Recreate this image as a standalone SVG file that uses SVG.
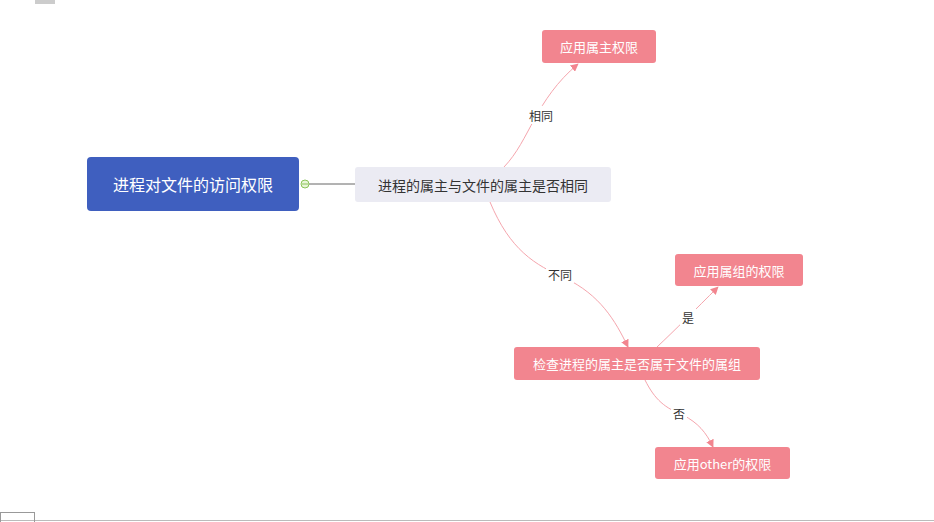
<svg xmlns="http://www.w3.org/2000/svg" width="934" height="522" viewBox="0 0 934 522">
<style>
text{font-family:"Noto Sans CJK SC","Liberation Sans",sans-serif;text-anchor:middle;dominant-baseline:central}
.p rect{fill:#f2858f}
.p text{fill:#fff;font-size:13px}
.c{fill:none;stroke:#f5a5ad;stroke-width:1}
.l{fill:#333;font-size:12px}
.lb{fill:#fff}
</style>
<defs>
<marker id="a" viewBox="0 0 10 10" refX="9" refY="5" markerWidth="8" markerHeight="8" orient="auto-start-reverse" markerUnits="userSpaceOnUse">
<path d="M0,0 L10,5 L0,10 z" fill="#f2858f"/>
</marker>
</defs>
<rect width="934" height="522" fill="#fff"/>
<rect x="35" y="0" width="20" height="4" fill="#ccc"/>
<line x1="0" y1="520.5" x2="934" y2="520.5" stroke="#bbb"/>
<rect x="0.5" y="512.5" width="34" height="12" fill="none" stroke="#999"/>
<g id="connectors">
<line x1="305" y1="184" x2="355" y2="184" stroke="#666"/>
<path class="c" d="M504,167 C530,140 535,100 578,64" marker-end="url(#a)"/>
<path class="c" d="M490,202 C510,250 535,265 565,278 C600,295 615,320 628,347" marker-end="url(#a)"/>
<path class="c" d="M657,347 C675,330 695,310 718,287" marker-end="url(#a)"/>
<path class="c" d="M645,380 C655,400 665,408 683,415 C698,423 706,432 713,447" marker-end="url(#a)"/>
<rect class="lb" x="527" y="106" width="28" height="18"/>
<text class="l" x="541" y="115">相同</text>
<rect class="lb" x="546" y="265" width="28" height="18"/>
<text class="l" x="560" y="274">不同</text>
<rect class="lb" x="680" y="308" width="16" height="18"/>
<text class="l" x="688" y="317">是</text>
<rect class="lb" x="671" y="404" width="16" height="18"/>
<text class="l" x="679" y="413">否</text>
</g>
<g id="root">
<rect x="87" y="157" width="212" height="54" rx="4" fill="#3f5fbf"/>
<text x="193" y="184" fill="#fff" font-size="16">进程对文件的访问权限</text>
<circle cx="305" cy="184" r="4" fill="#e8f5d8" stroke="#8cc45a"/>
<line x1="302" y1="184" x2="308" y2="184" stroke="#8cc45a"/>
</g>
<g id="q1">
<rect x="355" y="167" width="256" height="35" rx="3" fill="#ebebf3"/>
<text x="483" y="184.5" fill="#333" font-size="14">进程的属主与文件的属主是否相同</text>
</g>
<g id="owner" class="p">
<rect x="542" y="30" width="114" height="33" rx="3"/>
<text x="599" y="46.5">应用属主权限</text>
</g>
<g id="q2" class="p">
<rect x="514" y="347" width="246" height="33" rx="3"/>
<text x="637" y="363.5">检查进程的属主是否属于文件的属组</text>
</g>
<g id="group" class="p">
<rect x="675" y="254" width="128" height="32" rx="3"/>
<text x="739" y="270">应用属组的权限</text>
</g>
<g id="other" class="p">
<rect x="655" y="447" width="135" height="32" rx="3"/>
<text x="722.5" y="463">应用other的权限</text>
</g>
</svg>
